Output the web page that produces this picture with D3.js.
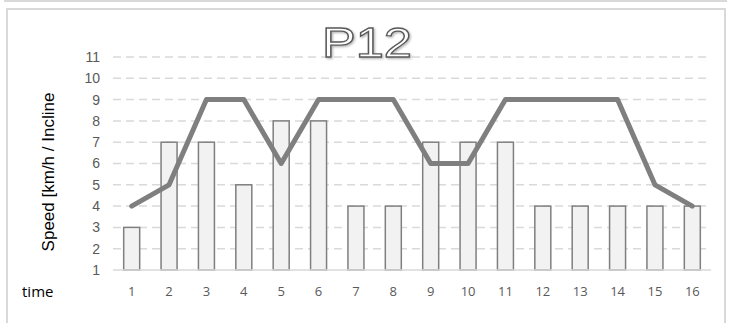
<!DOCTYPE html>
<html>
<head>
<meta charset="utf-8">
<script src="https://cdn.jsdelivr.net/npm/d3@7"></script>
<style>
  html, body { margin: 0; padding: 0; background: #fff; }
  svg { display: block; }
</style>
</head>
<body>
<svg id="chart" width="735" height="323"></svg>
<script>
// Interval programme P12: incline per step (bars) and speed per step (line)
const steps = [1, 2, 3, 4, 5, 6, 7, 8, 9, 10, 11, 12, 13, 14, 15, 16];
const incline = [3, 7, 7, 5, 8, 8, 4, 4, 7, 7, 7, 4, 4, 4, 4, 4];
const speed = [4, 5, 9, 9, 6, 9, 9, 9, 6, 6, 9, 9, 9, 9, 5, 4];
const yTicks = [1, 2, 3, 4, 5, 6, 7, 8, 9, 10, 11];
const title = "P12";
const yTitle = "Speed [km/h / Incline";
const xTitle = "time";

const svg = d3.select("#chart");
const plot = { left: 113, right: 711, top: 57, bottom: 270 };

// Frames
svg.append("rect").attr("x", 5).attr("y", -20).attr("width", 721).attr("height", 21)
  .attr("fill", "none").attr("stroke", "#d9d9d9").attr("stroke-width", 2);
svg.append("rect").attr("x", 7).attr("y", 9).attr("width", 718).attr("height", 340)
  .attr("fill", "#fff").attr("stroke", "#d9d9d9").attr("stroke-width", 2);

const x = d3.scaleBand().domain(steps).range([plot.left, plot.right]).padding(0);
const y = d3.scaleLinear().domain([1, 11]).range([plot.bottom, plot.top]);

// Gridlines
svg.append("g").selectAll("line").data(yTicks.filter(t => t > 1)).join("line")
  .attr("x1", plot.left).attr("x2", plot.right)
  .attr("y1", d => y(d)).attr("y2", d => y(d))
  .attr("stroke", "#d9d9d9").attr("stroke-width", 1.5)
  .attr("stroke-dasharray", "8,5");

// Y axis labels
const yAxis = d3.axisLeft(y).tickValues(yTicks).tickSize(0).tickPadding(0).tickFormat(d3.format("d"));
const gy = svg.append("g").attr("transform", `translate(${plot.left - 13},0)`).call(yAxis);
gy.select(".domain").remove();
gy.selectAll("text").attr("font-family", "'Liberation Sans', Arial, sans-serif")
  .attr("font-size", 14).attr("fill", "#595959");

// Title: outlined white lettering with a soft shadow
const defs = svg.append("defs");
const f = defs.append("filter").attr("id", "shadow").attr("x", "-20%").attr("y", "-20%")
  .attr("width", "140%").attr("height", "160%");
f.append("feDropShadow").attr("dx", 1.2).attr("dy", 1.2).attr("stdDeviation", 1)
  .attr("flood-color", "#000").attr("flood-opacity", 0.3);
svg.append("text").attr("x", 367).attr("y", 56.5).attr("text-anchor", "middle")
  .attr("font-family", "'Liberation Sans', Arial, sans-serif").attr("font-size", 43)
  .attr("fill", "#fff").attr("stroke", "#595959").attr("stroke-width", 1.3)
  .attr("filter", "url(#shadow)")
  .attr("textLength", 90).attr("lengthAdjust", "spacingAndGlyphs")
  .text(title);

// Bars (incline)
const barW = 16;
svg.append("g").selectAll("rect").data(steps).join("rect")
  .attr("x", (d) => x(d) + x.bandwidth() / 2 - barW / 2)
  .attr("y", (d, i) => y(incline[i]))
  .attr("width", barW)
  .attr("height", (d, i) => y(1) - y(incline[i]))
  .attr("fill", "#f2f2f2").attr("stroke", "#7f7f7f").attr("stroke-width", 1.5);

// Baseline
svg.append("line").attr("x1", plot.left).attr("x2", plot.right)
  .attr("y1", plot.bottom).attr("y2", plot.bottom)
  .attr("stroke", "#d9d9d9").attr("stroke-width", 1.5);

// Speed line
const line = d3.line().x((d, i) => x(steps[i]) + x.bandwidth() / 2).y(d => y(d));
svg.append("path").datum(speed).attr("d", line)
  .attr("fill", "none").attr("stroke", "#7f7f7f").attr("stroke-width", 5)
  .attr("stroke-linejoin", "round").attr("stroke-linecap", "round");

// X axis labels
const xAxis = d3.axisBottom(x).tickSize(0).tickPadding(0);
const gx = svg.append("g").attr("transform", `translate(0,${plot.bottom + 17})`).call(xAxis);
gx.select(".domain").remove();
gx.selectAll("text").attr("font-family", "'Open Sans', sans-serif")
  .attr("font-size", 13).attr("fill", "#595959");

// Axis titles
svg.append("text").attr("x", 22).attr("y", 297)
  .attr("font-family", "'Open Sans', sans-serif").attr("font-size", 15)
  .attr("fill", "#000").text(xTitle);
svg.append("text").attr("transform", "translate(54,172) rotate(-90)")
  .attr("text-anchor", "middle")
  .attr("font-family", "'Liberation Sans', Arial, sans-serif").attr("font-size", 17)
  .attr("fill", "#000").text(yTitle);
</script>
</body>
</html>
